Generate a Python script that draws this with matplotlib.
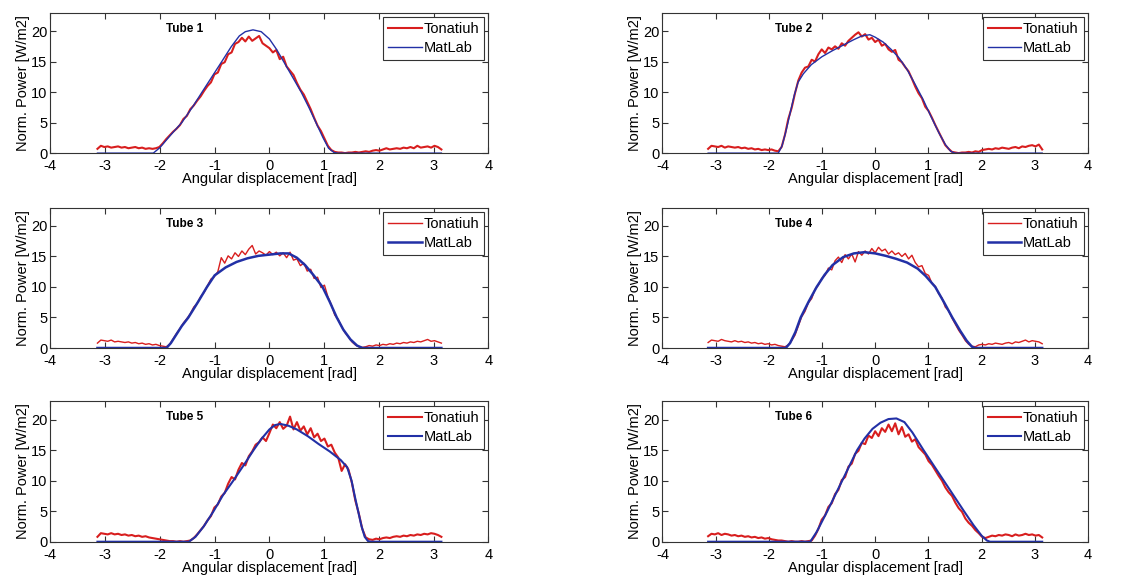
import numpy as np
import matplotlib.pyplot as plt

plt.rcParams['font.family'] = ['Liberation Sans', 'DejaVu Sans']
plt.rcParams['axes.unicode_minus'] = False

# sampling grid of the Tonatiuh (ray tracing) curves
ray_x = np.linspace(-3.14, 3.14, 101)

tube_names = ["Tube 1", "Tube 2", "Tube 3", "Tube 4", "Tube 5", "Tube 6"]

# Tonatiuh results (noisy), one value per ray_x
tona_1 = [0.7, 1.2, 1.0, 1.1, 0.9, 1.0, 1.1, 0.9, 1.0, 0.8, 0.9, 1.0, 0.8, 0.9, 0.7, 0.8, 0.7,
          0.8, 1.0, 1.6, 2.3, 2.9, 3.5, 4.0, 4.6, 5.6, 6.1, 7.2, 7.8, 8.6, 9.3, 10.2, 11.0, 11.6,
          12.9, 13.2, 14.6, 14.9, 16.2, 16.5, 17.9, 18.2, 18.9, 18.3, 19.1, 18.4, 18.8, 19.2,
          18.0, 17.6, 17.2, 16.5, 16.9, 15.4, 15.8, 14.2, 13.5, 12.8, 11.5, 10.4, 9.6, 8.4, 7.2,
          5.8, 4.5, 3.6, 2.4, 1.2, 0.5, 0.2,
          0.1, 0.1, 0.0, 0.1, 0.1, 0.2, 0.1, 0.2, 0.3, 0.2, 0.4,
          0.5, 0.4, 0.6, 0.8, 0.6, 0.7, 0.8, 0.7, 0.9, 0.8, 1.0, 0.8, 1.2, 0.9, 1.0, 1.1, 0.9,
          1.2, 1.0, 0.6]
tona_2 = [0.7, 1.2, 1.1, 1.0, 1.2, 0.9, 1.1, 1.0, 0.9, 1.0, 0.8, 0.9, 0.7, 0.8, 0.6, 0.7, 0.5,
          0.6, 0.5, 0.6, 0.4,
          0.3, 1.0, 3.0, 5.6, 7.4, 9.8, 11.9, 13.2, 14.0, 14.2, 15.3, 15.0, 16.2, 17.0, 16.4,
          17.3, 17.0, 17.5, 17.1, 18.0, 17.6, 18.4, 18.9, 19.4, 19.8, 19.1, 19.5, 18.6, 18.9,
          18.2, 18.6, 17.6, 17.9, 17.0, 16.6, 16.9, 15.3, 14.9, 14.1, 13.4, 12.2, 10.9, 9.8,
          9.0, 7.6, 6.9, 5.8, 4.6, 3.5, 2.4, 1.3, 0.7, 0.2, 0.1,
          0.0, 0.1, 0.1, 0.2, 0.1, 0.3, 0.2,
          0.5, 0.6, 0.7, 0.6, 0.8, 0.7, 0.9, 0.8, 0.7, 0.9, 1.0, 0.8, 1.1, 1.0, 1.2, 1.3, 1.1,
          1.4, 0.6]
tona_3 = [0.8, 1.3, 1.2, 1.1, 1.3, 1.0, 1.1, 1.0, 0.9, 1.0, 0.8, 0.9, 0.7, 0.8, 0.6, 0.7, 0.5,
          0.6, 0.4,
          0.3, 0.2, 0.6, 1.5, 2.4, 3.2, 4.1, 4.8, 5.6, 6.7, 7.3, 8.4, 9.1, 10.2, 11.3, 11.7,
          12.5, 14.8, 13.9, 15.1, 14.6, 15.6, 15.0, 15.9, 15.3, 16.2, 16.8, 15.4, 15.9, 15.6,
          15.2, 15.8, 15.3, 15.7, 15.1, 15.6, 14.8, 15.7, 14.4, 14.6, 13.5, 13.9, 12.6, 12.9,
          11.4, 11.6, 9.9, 10.3, 8.4, 7.1, 5.4, 4.7, 3.5, 2.5, 1.8, 1.0, 0.5, 0.2, 0.1,
          0.2, 0.4, 0.3, 0.5, 0.4, 0.6, 0.5, 0.7, 0.6, 0.8, 0.7, 0.9, 0.8, 1.0, 0.9, 1.1, 1.0,
          1.2, 1.4, 1.1, 1.2, 1.0, 0.8]
tona_4 = [0.9, 1.3, 1.2, 1.1, 1.4, 1.2, 1.1, 1.0, 1.2, 1.0, 1.1, 0.9, 1.0, 0.8, 0.9, 0.7, 0.8,
          0.6, 0.7, 0.5, 0.6, 0.4,
          0.3, 0.2, 0.5, 1.2, 2.1, 3.6, 5.1, 6.0, 7.4, 8.1, 9.6, 10.3, 11.4, 11.9, 13.1, 12.8,
          14.3, 14.9, 14.0, 15.3, 14.6, 15.4, 14.1, 15.8, 15.2, 15.9, 15.4, 16.3, 15.6, 16.5,
          15.9, 16.2, 15.4, 15.9, 15.3, 15.6, 15.0, 15.5, 14.6, 15.2, 14.0, 13.3, 13.5, 12.2,
          11.9, 10.6, 10.1, 8.9, 8.2, 6.7, 6.1, 4.9, 3.9, 2.9, 2.1, 1.2, 0.6, 0.3, 0.2,
          0.5, 0.6, 0.5, 0.7, 0.6, 0.8, 0.7, 0.6, 0.8, 0.9, 0.7, 1.0, 0.9, 1.1, 1.3, 1.0, 1.2,
          1.1, 1.0, 0.7]
tona_5 = [0.8, 1.4, 1.3, 1.2, 1.4, 1.2, 1.3, 1.1, 1.2, 1.0, 1.1, 0.9, 1.0, 0.8, 0.9, 0.7, 0.6,
          0.5,
          0.4, 0.3, 0.2, 0.1, 0.1, 0.0, 0.1, 0.0, 0.1, 0.2, 0.6, 1.2, 1.9, 2.6, 3.5, 4.2, 5.6,
          6.1, 7.4, 8.0, 9.5, 10.6, 10.2, 11.8, 12.9, 12.5, 14.0, 14.8, 15.9, 16.3, 17.1, 16.5,
          17.8, 19.2, 18.6, 19.6, 18.5, 19.0, 20.5, 18.4, 19.6, 18.2, 18.9, 17.6, 18.6, 17.1,
          17.7, 16.5, 16.9, 15.6, 15.9, 14.6, 13.8, 11.6, 12.7, 11.8, 9.6, 6.7, 4.6, 2.1, 0.7,
          0.4, 0.3,
          0.5, 0.4, 0.6, 0.7, 0.6, 0.8, 0.9, 0.8, 1.0, 0.9, 1.1, 1.0, 1.2, 1.1, 1.3, 1.2, 1.4,
          1.3, 1.1, 0.8]
tona_6 = [0.9, 1.3, 1.2, 1.4, 1.1, 1.3, 1.2, 1.0, 1.1, 0.9, 1.0, 0.8, 0.9, 0.7, 0.8, 0.6, 0.7,
          0.5, 0.6, 0.4, 0.3, 0.2,
          0.2, 0.1, 0.0, 0.1, 0.0, 0.0, 0.1, 0.0, 0.1, 0.2, 1.0, 2.1, 3.6, 4.3, 5.7, 6.3, 7.8,
          8.5, 10.1, 10.6, 12.3, 12.8, 14.4, 14.9, 16.2, 16.0, 17.4, 17.0, 18.1, 17.3, 18.6,
          18.0, 19.2, 18.1, 19.4, 17.6, 18.8, 17.2, 17.6, 16.4, 16.8, 15.5, 14.9, 14.3, 13.2,
          12.6, 11.7, 10.8, 10.0, 8.9, 8.1, 7.5, 6.4, 5.5, 4.9, 3.8, 3.1, 2.6, 1.9, 1.4, 0.8,
          0.6,
          0.8, 1.0, 0.9, 1.1, 1.0, 1.2, 1.1, 0.9, 1.2, 1.0, 1.1, 1.3, 1.1, 1.2, 1.0, 1.1, 0.7]

# MatLab model (smooth), read at key points
mat_x_1 = [-3.14, -2.12, -2.0, -1.8, -1.6, -1.4, -1.23, -1.05, -0.87, -0.7, -0.55, -0.44, -0.3,
           -0.15, 0.0, 0.13, 0.26, 0.42, 0.58, 0.72, 0.85, 0.98, 1.08, 1.18, 1.25, 3.14]
mat_y_1 = [0, 0, 0.9, 3.0, 5.0, 7.6, 10.0, 12.5, 15.0, 17.4, 19.2, 19.9, 20.2,
           19.9, 18.7, 17.0, 15.0, 12.5, 10.0, 7.5, 5.0, 2.5, 0.8, 0.1, 0, 0]
mat_x_2 = [-3.14, -1.82, -1.75, -1.68, -1.6, -1.52, -1.45, -1.35, -1.2, -1.0, -0.8, -0.6, -0.4,
           -0.25, -0.1, 0.0, 0.15, 0.3, 0.45, 0.6, 0.75, 0.9, 1.05, 1.2, 1.32, 1.42, 1.5, 3.14]
mat_y_2 = [0, 0, 1.2, 3.5, 6.5, 9.5, 11.6, 13.0, 14.5, 15.8, 16.8, 17.7, 18.6,
           19.2, 19.4, 19.0, 18.2, 17.0, 15.6, 13.7, 11.3, 8.8, 6.0, 3.3, 1.4, 0.3, 0, 0]
mat_x_3 = [-3.14, -1.88, -1.8, -1.7, -1.6, -1.48, -1.3, -1.14, -1.0, -0.8, -0.6, -0.4, -0.2,
           0.0, 0.2, 0.35, 0.5, 0.65, 0.8, 0.97, 1.1, 1.23, 1.35, 1.48, 1.6, 1.7, 3.14]
mat_y_3 = [0, 0, 0.8, 2.2, 3.6, 5.0, 7.6, 10.0, 11.9, 13.2, 14.1, 14.7, 15.1,
           15.3, 15.5, 15.5, 14.8, 13.6, 12.0, 10.0, 7.6, 5.0, 3.0, 1.4, 0.4, 0, 0]
mat_x_4 = [-3.14, -1.68, -1.6, -1.5, -1.4, -1.25, -1.1, -0.95, -0.8, -0.6, -0.4, -0.2, 0.0,
           0.2, 0.4, 0.6, 0.8, 0.95, 1.13, 1.3, 1.45, 1.6, 1.72, 1.82, 1.88, 3.14]
mat_y_4 = [0, 0, 0.8, 2.6, 5.0, 7.6, 10.0, 12.0, 13.6, 14.9, 15.5, 15.7, 15.5,
           15.1, 14.6, 14.0, 13.0, 11.8, 10.0, 7.4, 5.0, 2.8, 1.2, 0.2, 0, 0]
mat_x_5 = [-3.14, -1.47, -1.35, -1.2, -1.02, -0.85, -0.66, -0.45, -0.29, -0.15, 0.0, 0.1, 0.2,
           0.35, 0.5, 0.7, 0.9, 1.1, 1.3, 1.42, 1.5, 1.56, 1.62, 1.68, 1.74, 1.8, 1.85, 3.14]
mat_y_5 = [0, 0, 0.8, 2.5, 5.0, 7.6, 10.0, 12.8, 15.0, 16.8, 18.4, 19.1, 19.3,
           19.0, 18.4, 17.3, 16.0, 14.8, 13.4, 12.2, 10.0, 7.4, 5.0, 2.6, 0.8, 0.1, 0, 0]
mat_x_6 = [-3.14, -1.22, -1.1, -0.9, -0.76, -0.62, -0.48, -0.34, -0.2, -0.05, 0.1, 0.25, 0.4,
           0.55, 0.7, 0.91, 1.1, 1.29, 1.48, 1.67, 1.85, 2.0, 2.1, 2.16, 3.14]
mat_y_6 = [0, 0, 1.6, 5.0, 7.5, 10.0, 12.5, 15.0, 16.9, 18.5, 19.5, 20.1, 20.2,
           19.6, 17.9, 15.0, 12.5, 10.0, 7.5, 5.0, 2.7, 1.0, 0.2, 0, 0]

tona_all = [tona_1, tona_2, tona_3, tona_4, tona_5, tona_6]
mat_x_all = [mat_x_1, mat_x_2, mat_x_3, mat_x_4, mat_x_5, mat_x_6]
mat_y_all = [mat_y_1, mat_y_2, mat_y_3, mat_y_4, mat_y_5, mat_y_6]

red = '#d81e1e'
blue = '#2230a6'
# line widths differ a little from row to row in the original
widths = [(1.5, 1.0), (1.5, 1.0), (1.0, 1.8), (1.0, 1.8), (1.5, 1.5), (1.5, 1.5)]

fig = plt.figure(figsize=(11.44, 5.80), dpi=100)
lefts = [0.044, 0.579]
axw = [0.383, 0.372]
bottoms = [0.736, 0.400, 0.066]
axh = 0.242

for k in range(6):
    row, col = k // 2, k % 2
    ax = fig.add_axes([lefts[col], bottoms[row], axw[col], axh])
    lw_r, lw_b = widths[k]
    ax.plot(ray_x, tona_all[k], color=red, lw=lw_r, label='Tonatiuh')
    ax.plot(mat_x_all[k], mat_y_all[k], color=blue, lw=lw_b, label='MatLab')
    ax.set_xlim(-4, 4)
    ax.set_ylim(0, 23)
    ax.set_xticks(range(-4, 5))
    ax.set_yticks([0, 5, 10, 15, 20])
    for s in ax.spines.values():
        s.set_color('#333333')
    ax.tick_params(direction='in', top=True, right=True, labelsize=10.5, length=4,
                   color='#333333')
    ax.tick_params(axis='x', pad=4.5)
    ax.tick_params(axis='y', pad=2)
    ax.set_xlabel('Angular displacement [rad]', fontsize=10.5, labelpad=-1)
    ax.set_ylabel('Norm. Power [W/m2]', fontsize=10.5, labelpad=1)
    ax.text(0.265, 0.865, tube_names[k], transform=ax.transAxes, fontsize=8.5,
            fontweight='bold')
    leg = ax.legend(loc='upper right', fontsize=10.5, frameon=True, fancybox=False,
                    edgecolor='#333333', framealpha=1, borderaxespad=0.3,
                    handlelength=2.3, handletextpad=0.1, borderpad=0.35, labelspacing=0.35)
    leg.get_frame().set_linewidth(0.8)

plt.savefig('out.png', dpi=100)
